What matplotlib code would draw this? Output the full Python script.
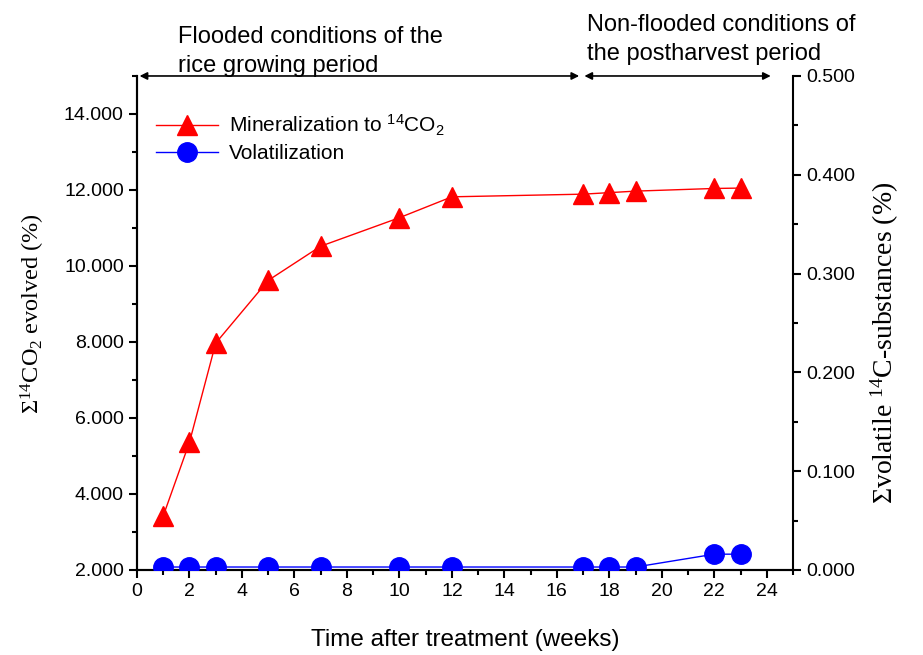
import numpy as np
import matplotlib.pyplot as plt
from matplotlib.ticker import MultipleLocator, FormatStrFormatter

plt.rcParams['font.family'] = ['Liberation Sans', 'DejaVu Sans']

# data
weeks = [1, 2, 3, 5, 7, 10, 12, 17, 18, 19, 22, 23]
mineralization = [3.42, 5.36, 7.97, 9.62, 10.52, 11.27, 11.82, 11.89, 11.93, 11.97, 12.04, 12.05]
volatilization = [0.003, 0.003, 0.003, 0.003, 0.003, 0.003, 0.003, 0.003, 0.003, 0.003, 0.016, 0.016]

period_labels = ["Flooded conditions of the\nrice growing period",
                 "Non-flooded conditions of\nthe postharvest period"]
period_spans = [(0.1, 16.85), (17.05, 24.15)]

fig = plt.figure(figsize=(9.23, 6.55), dpi=100)
ax = fig.add_axes([0.1484, 0.1298, 0.7108, 0.7542])
ax2 = ax.twinx()

ax.plot(weeks, mineralization, color="red", marker="^", markersize=14,
        linewidth=1, label=r"Mineralization to $\mathregular{^{14}CO_2}$", zorder=3)
ax2.plot(weeks, volatilization, color="blue", marker="o", markersize=14,
         linewidth=1, zorder=3)
ax.plot([], [], color="blue", marker="o", markersize=14, linewidth=1,
        label="Volatilization")

ax.set_xlim(0, 25)
ax.set_ylim(2, 15)
ax2.set_ylim(0, 0.5)

ax.xaxis.set_major_locator(MultipleLocator(2))
ax.xaxis.set_minor_locator(MultipleLocator(1))
ax.yaxis.set_major_locator(MultipleLocator(2))
ax.yaxis.set_minor_locator(MultipleLocator(1))
ax.yaxis.set_major_formatter(FormatStrFormatter("%.3f"))
ax2.yaxis.set_major_locator(MultipleLocator(0.1))
ax2.yaxis.set_minor_locator(MultipleLocator(0.05))
ax2.yaxis.set_major_formatter(FormatStrFormatter("%.3f"))

for a in (ax, ax2):
    a.spines["top"].set_visible(False)
    for s in a.spines.values():
        s.set_linewidth(1.5)
    a.tick_params(which="major", direction="out", length=6, width=1.5, labelsize=14)
    a.tick_params(which="minor", direction="out", length=3.5, width=1.5)
ax.spines["right"].set_visible(False)

ax.set_xlabel("Time after treatment (weeks)", fontsize=17.5, labelpad=21)
ax.set_ylabel(r"Σ$\mathregular{^{14}CO_2}$ evolved (%)", fontsize=17.5,
              family=["Liberation Serif", "DejaVu Serif"], labelpad=12)
ax2.set_ylabel(r"Σvolatile $\mathregular{^{14}}$C-substances (%)", fontsize=20,
               family=["Liberation Serif", "DejaVu Serif"], labelpad=10)
ax.yaxis.label.set_y(0.52)
ax2.yaxis.label.set_y(0.46)

leg = ax.legend(loc="upper left", bbox_to_anchor=(0.0, 0.964), frameon=False,
                fontsize=15, handlelength=3.0, handletextpad=0.5, labelspacing=0.3)

# period arrows along the top of the plot
for (x0, x1) in period_spans:
    ax.annotate("", xy=(x0, 15), xytext=(x1, 15), xycoords="data",
                arrowprops=dict(arrowstyle="<|-|>", color="black", lw=1.2,
                                mutation_scale=11, shrinkA=0, shrinkB=0),
                annotation_clip=False)

fig.text(0.1929, 0.8824, period_labels[0], fontsize=17, ha="left", va="bottom",
         linespacing=1.4)
fig.text(0.636, 0.9008, period_labels[1], fontsize=17, ha="left", va="bottom",
         linespacing=1.4)

fig.savefig("out.png", dpi=100)
